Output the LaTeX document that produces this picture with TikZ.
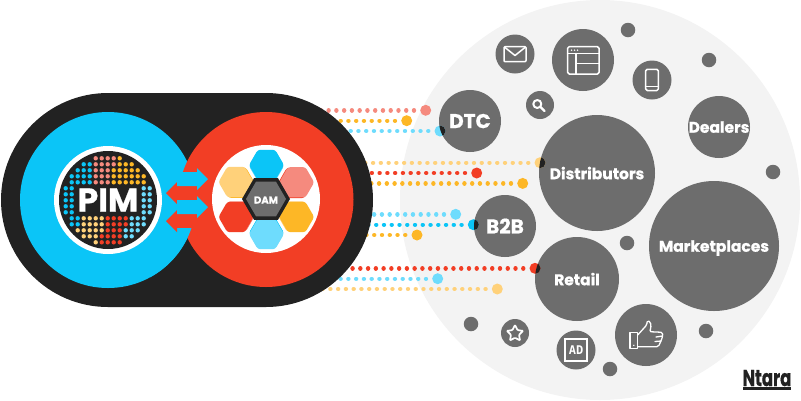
\documentclass[tikz,border=0pt]{standalone}
\usepackage{fontspec}
\setmainfont{Poppins}[BoldFeatures={FakeBold=0.7}]
\newfontfamily\monofnt{DejaVu Sans Mono}
\usetikzlibrary{shapes.geometric}
\definecolor{BodyClr}{HTML}{222222}
\definecolor{BubbleClr}{HTML}{6D6D6D}
\definecolor{HaloClr}{HTML}{F3F3F3}
\definecolor{BlueClr}{HTML}{0BC5F7}
\definecolor{SkyClr}{HTML}{6EDCFD}
\definecolor{RedClr}{HTML}{F23E25}
\definecolor{SalmonClr}{HTML}{F58A7E}
\definecolor{AmberClr}{HTML}{FDB726}
\definecolor{SandClr}{HTML}{FFD17A}
\tikzset{
  bubble/.style={circle,fill=BubbleClr,text=white,font=\bfseries,inner sep=0pt,outer sep=0pt,text depth=0pt},
  disc/.style={circle,inner sep=0pt,outer sep=0pt},
  endcap/.style={disc,minimum size=11pt},
  dotline/.style={line width=4.4pt,line cap=round,dash pattern=on 0.01pt off 7.75pt,dash phase=1.55pt},
  hexcell/.style={regular polygon,regular polygon sides=6,inner sep=0pt,outer sep=0pt,rounded corners=2.5pt,minimum size=35pt},
  icon/.style={draw=white,line width=1.5pt,line join=round,line cap=round},
}
\begin{document}
\begin{tikzpicture}[x=1pt,y=-1pt]
\useasboundingbox (0,0) rectangle (801,400);

\node[disc,fill=HaloClr,minimum size=400pt] (halo) at (600,200) {};

% dark bubbles
\foreach \n/\x/\y in {dotA/628/30,dotB/709/60,dotC/773/172,dotD/627/243,dotE/706/331,dotF/471/324,dotG/610/369}
  \node[bubble,minimum size=14.5pt] (\n) at (\x,\y) {};
\node[bubble,minimum size=62pt,font=\bfseries\fontsize{20}{20}\selectfont] (DTC) at (470,121) {DTC};
\node[bubble,minimum size=62pt,font=\bfseries\fontsize{20}{20}\selectfont] (BtoB) at (505,226) {B2B};
\node[bubble,minimum size=62pt,font=\bfseries\fontsize{15.5}{16}\selectfont] (Dealers) at (719,127) {Dealers};
\node[bubble,minimum size=116pt,font=\bfseries\fontsize{15.5}{16}\selectfont] (Distributors) at (597,173) {Distributors};
\node[bubble,minimum size=130pt,font=\bfseries\fontsize{15.5}{16}\selectfont] (Marketplaces) at (714,246) {Marketplaces};
\node[bubble,minimum size=84pt,font=\bfseries\fontsize{15.5}{16}\selectfont] (Retail) at (577,279) {Retail};
\node[bubble,minimum size=28pt] (search) at (540,105) {};
\node[bubble,minimum size=39pt] (mail) at (515,54) {};
\node[bubble,minimum size=62pt] (browser) at (583,60) {};
\node[bubble,minimum size=39pt] (phone) at (652,80) {};
\node[bubble,minimum size=28pt] (starhub) at (515,333) {};
\node[bubble,minimum size=39pt] (adhub) at (576,350) {};
\node[bubble,minimum size=62pt] (thumb) at (646,335) {};

% icons
\draw[icon,line width=2pt] (537.3,104) circle (4);
\draw[icon,line width=2.2pt] (540.5,107) -- (544.5,111);
\draw[icon,rounded corners=1pt] (504,46.7) rectangle (526,61.7);
\draw[icon] (505,47.5) -- (515,55.5) -- (525,47.5);
\draw[icon,rounded corners=1.5pt] (567.7,46.7) rectangle (599,74);
\draw[icon] (567.7,53.5) -- (599,53.5) (576,53.5) -- (576,74) (576,63.5) -- (599,63.5);
\foreach \x in {571.5,574.5,577.5} \fill[white] (\x,50.2) circle (0.8);
\draw[icon,rounded corners=1.5pt] (645.7,69.3) rectangle (658.3,90.5);
\draw[icon] (645.7,86.7) -- (658.3,86.7);
\node[star,star points=5,star point ratio=2,draw=white,line width=1.7pt,inner sep=0pt,minimum size=17pt,rounded corners=0.8pt] (starmark) at (515,333.5) {};
\node[draw=white,line width=1.5pt,minimum size=22pt,inner sep=0pt,text=white,font=\monofnt\bfseries\fontsize{12}{12}\selectfont] (admark) at (576,350) {AD};
\draw[icon,line width=1.3pt] (630,332.7) rectangle (637.7,348.3);
\draw[icon,line width=1.3pt,rounded corners=1.5pt] (637.7,335) -- (646.7,325) -- (647.3,320.5) -- (650.5,322) -- (651,328) -- (649.5,331.7) -- (662.5,332.3) -- (662.7,336) -- (661,341) -- (658.3,346.7) -- (638.3,346.7);
\draw[icon,line width=1.3pt] (656,337) -- (662.5,336) (655,341.5) -- (661,341);
\fill[white] (633.8,345.3) circle (0.8);

% dotted lines
\foreach \n/\x/\y/\clr in {A/425.7/110.3/SalmonClr,B/406.7/120.7/AmberClr,C/440/131/SkyClr,
  D/540/162.7/SandClr,E/476.7/173/RedClr,F/522.7/183.4/AmberClr,
  G/455.7/214.3/SkyClr,H/473.3/224.7/BlueClr,I/417/235/AmberClr,
  J/535/268.3/RedClr,K/437.7/278.7/SkyClr,L/497.3/289/SandClr}{
  \coordinate (start\n) at (300,\y);
  \node[endcap,fill=\clr] (cap\n) at (\x,\y) {};
  \draw[dotline,\clr] (cap\n) -- (start\n);
}
\foreach \n/\hub/\r in {C/DTC/31,D/Distributors/58,H/BtoB/31,J/Retail/42}{
  \begin{scope}
    \clip (cap\n) circle (5.5);
    \fill[BodyClr] (\hub) circle (\r);
  \end{scope}
}

% body
\fill[BodyClr,rounded corners=107pt] (1,93) rectangle (373,307);
\node[disc,fill=BlueClr,minimum size=176pt] (PIMring) at (108,200) {};
\node[disc,fill=RedClr,minimum size=175pt] (DAMring) at (266,199.5) {};
\begin{scope}
  \clip (150,228) rectangle (220,300);
  \fill[BlueClr] (PIMring) circle (88);
\end{scope}
\foreach \y in {193,221}
  \fill[RedClr] (197,\y-6.8) -- (177,\y-6.8) -- (177,\y-11) -- (166,\y) -- (177,\y+11) -- (177,\y+6.8) -- (197,\y+6.8) -- cycle;
\foreach \y in {179,207}
  \fill[BlueClr] (177,\y-7) -- (197,\y-7) -- (197,\y-11) -- (208,\y) -- (197,\y+11) -- (197,\y+7) -- (177,\y+7) -- cycle;

% PIM
\node[disc,fill=white,minimum size=108pt] (PIMrim) at (108,200) {};
\node[disc,fill=BodyClr,minimum size=98pt] (PIMcore) at (108,200) {};
\foreach \j/\a/\b/\clr in {0/5/8/SalmonClr,0/9/9/AmberClr,
  1/3/4/BlueClr,1/5/8/SalmonClr,1/9/11/AmberClr,
  2/2/4/BlueClr,2/5/7/SalmonClr,2/8/12/AmberClr,
  3/1/4/BlueClr,3/5/7/SalmonClr,3/8/13/AmberClr,
  4/1/4/BlueClr,4/5/7/SalmonClr,4/8/13/AmberClr,
  5/0/1/BlueClr,5/13/14/SkyClr,6/0/1/BlueClr,6/13/14/SkyClr,7/0/1/BlueClr,7/13/14/SkyClr,
  8/0/1/BlueClr,8/13/14/SkyClr,9/0/1/BlueClr,9/13/14/SkyClr,
  10/1/2/BlueClr,10/3/6/SandClr,10/7/10/RedClr,10/11/13/SkyClr,
  11/1/2/BlueClr,11/3/6/SandClr,11/7/10/RedClr,11/11/13/SkyClr,
  12/2/6/SandClr,12/7/9/RedClr,12/10/12/SkyClr,
  13/3/5/SandClr,13/6/9/RedClr,13/10/11/SkyClr,
  14/5/5/SandClr,14/6/9/RedClr}{
  \foreach \k in {\a,...,\b}
    \fill[\clr] (65.7+6*\k,158.3+6*\j) circle (2.2);
}
\node[text=white,font=\bfseries\fontsize{33}{33}\selectfont,inner sep=0pt] (PIMlabel) at (108,200) {PIM};

% DAM
\node[disc,fill=white,minimum size=108pt] (DAMrim) at (266,199) {};
\foreach \n/\x/\y/\clr/\edge/\dx/\dy in {a/266.5/165/BlueClr/SkyClr/0/1.2,
  b/296.7/182.3/SalmonClr/RedClr/-1.1/0.6,c/296.7/217/AmberClr/SandClr/-1.1/-0.6,
  d/266.5/234/SkyClr/BlueClr/0/-1.2,e/236/217/RedClr/SalmonClr/1.1/-0.6,
  f/236/182/SandClr/AmberClr/1.1/0.6}{
  \node[hexcell,fill=\edge] (edge\n) at (\x+\dx,\y+\dy) {};
  \node[hexcell,fill=\clr] (cell\n) at (\x,\y) {};
}
\node[regular polygon,regular polygon sides=6,fill=BodyClr,inner sep=0pt,minimum size=48pt] (DAMframe) at (266,199) {};
\node[regular polygon,regular polygon sides=6,fill=BubbleClr,inner sep=0pt,minimum size=40pt] (DAMcore) at (266,199) {};
\node[text=white,font=\bfseries\fontsize{10}{10}\selectfont,inner sep=0pt] (DAMlabel) at (266,200) {DAM};

% logo
\node[text=BodyClr,font=\bfseries\fontsize{23}{23}\selectfont,inner sep=0pt,anchor=south] (logo) at (767,386.4) {\scalebox{0.72}[1]{Ntara}};
\fill[BodyClr] (743,387) rectangle (790.7,389.7);
\end{tikzpicture}
\end{document}
